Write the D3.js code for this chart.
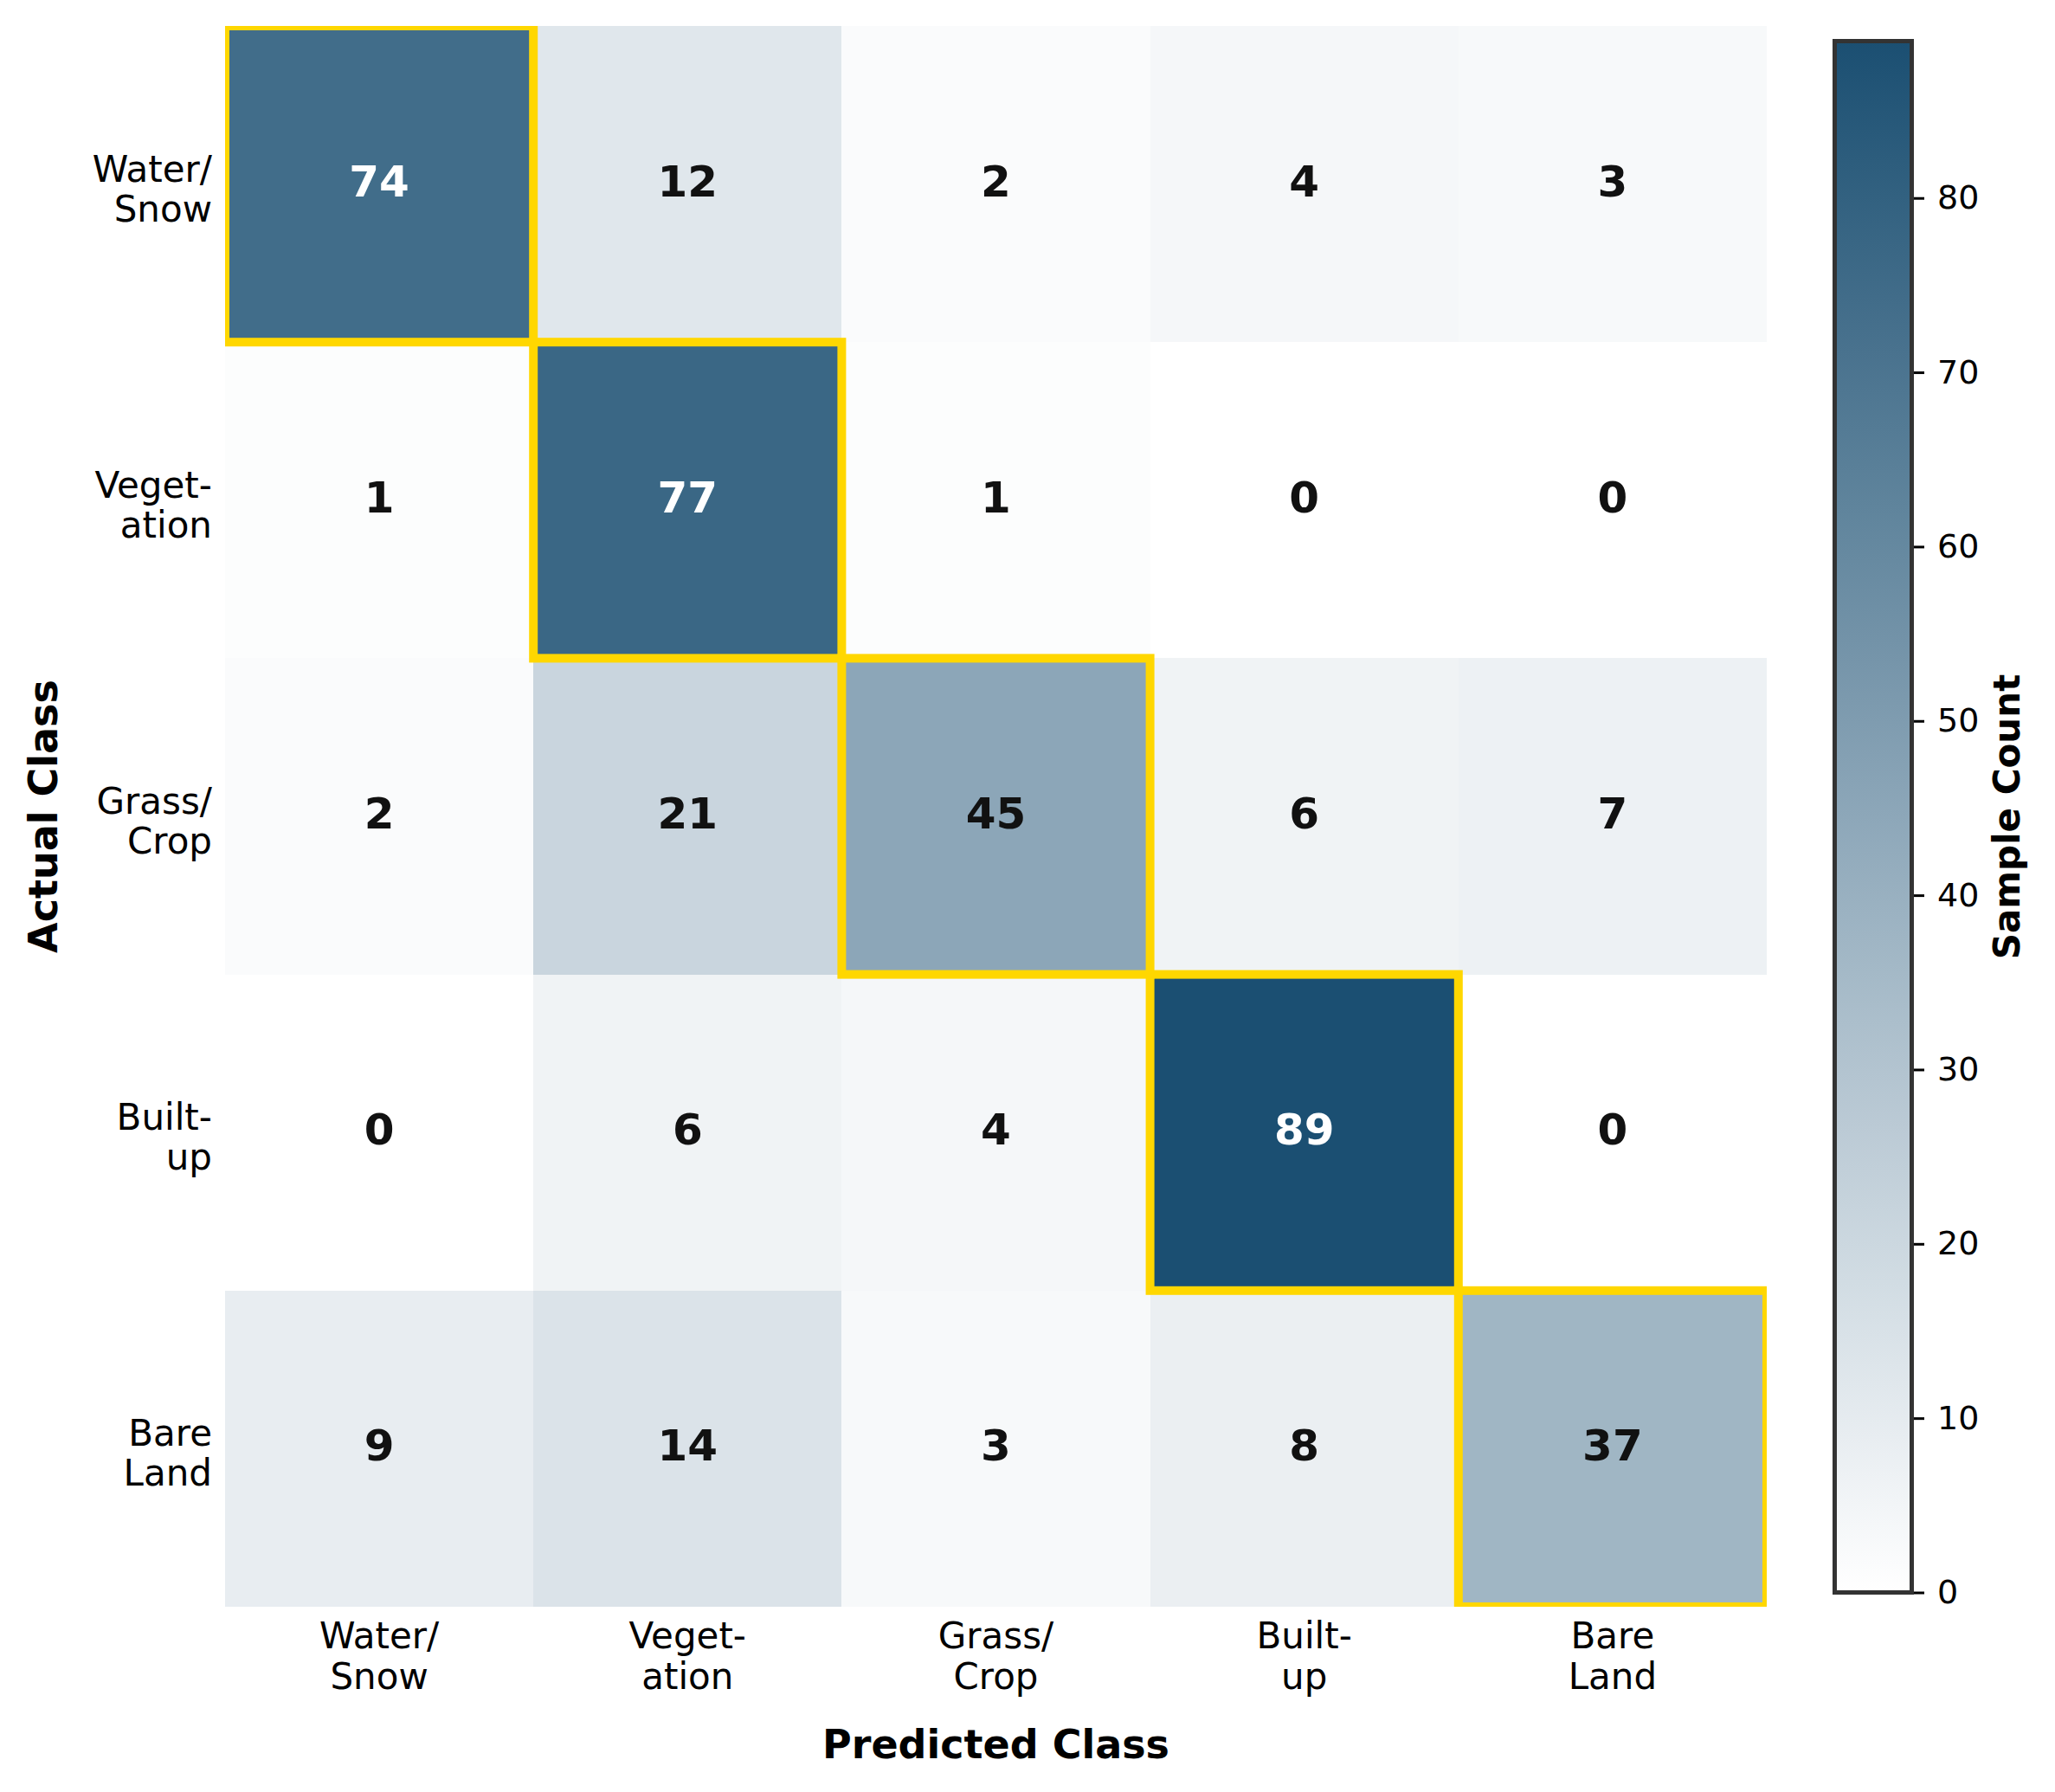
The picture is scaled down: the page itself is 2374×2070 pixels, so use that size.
<!DOCTYPE html>
<html>
<head>
<meta charset="utf-8">
<script src="https://cdn.jsdelivr.net/npm/d3@7"></script>
<style>
  html, body { margin: 0; padding: 0; background: #ffffff; }
  svg { display: block; }
  text { font-family: "DejaVu Sans", sans-serif; }
</style>
</head>
<body>
<svg id="chart" width="2374" height="2070"></svg>
<script>
// ---- data ----
const predictedClasses = ["Water/\nSnow", "Veget-\nation", "Grass/\nCrop", "Built-\nup", "Bare\nLand"];
const actualClasses    = ["Water/\nSnow", "Veget-\nation", "Grass/\nCrop", "Built-\nup", "Bare\nLand"];
const rowWaterSnow  = [74, 12, 2, 4, 3];
const rowVegetation = [1, 77, 1, 0, 0];
const rowGrassCrop  = [2, 21, 45, 6, 7];
const rowBuiltUp    = [0, 6, 4, 89, 0];
const rowBareLand   = [9, 14, 3, 8, 37];
const matrixRows = [rowWaterSnow, rowVegetation, rowGrassCrop, rowBuiltUp, rowBareLand];
const colorbarTicks = [0, 10, 20, 30, 40, 50, 60, 70, 80];
const colorMax = 89;

// ---- layout ----
const svg = d3.select("#chart");
const ax = { left: 260, top: 30, right: 2041, bottom: 1856 };
const cb = { left: 2119.5, right: 2208.5, top: 47.5, bottom: 1839.5 };

const cells = [];
matrixRows.forEach((row, r) => row.forEach((v, c) => cells.push({ r, c, v })));

const x = d3.scaleBand().domain(d3.range(predictedClasses.length)).range([ax.left, ax.right]);
const y = d3.scaleBand().domain(d3.range(actualClasses.length)).range([ax.top, ax.bottom]);
const color = d3.scaleLinear().domain([0, colorMax]).range(["#ffffff", "#1b4f72"]).interpolate(d3.interpolateRgb);

// clip for the highlight boxes
const defs = svg.append("defs");
defs.append("clipPath").attr("id", "axclip")
  .append("rect").attr("x", ax.left).attr("y", ax.top)
  .attr("width", ax.right - ax.left).attr("height", ax.bottom - ax.top);

// cells
svg.append("g").selectAll("rect").data(cells).join("rect")
  .attr("x", d => x(d.c)).attr("y", d => y(d.r))
  .attr("width", x.bandwidth()).attr("height", y.bandwidth())
  .attr("fill", d => color(d.v))
  .attr("shape-rendering", "crispEdges");

// diagonal highlights
svg.append("g").attr("clip-path", "url(#axclip)")
  .selectAll("rect").data(cells.filter(d => d.r === d.c)).join("rect")
  .attr("x", d => x(d.c)).attr("y", d => y(d.r))
  .attr("width", x.bandwidth()).attr("height", y.bandwidth())
  .attr("fill", "none").attr("stroke", "#FFD700").attr("stroke-width", 10);

// values
svg.append("g").selectAll("text").data(cells).join("text")
  .attr("x", d => x(d.c) + x.bandwidth() / 2)
  .attr("y", d => y(d.r) + y.bandwidth() / 2 + 14)
  .attr("text-anchor", "middle")
  .attr("font-size", 50).attr("font-weight", "bold")
  .attr("fill", d => d.v > 60 ? "#ffffff" : "#111111")
  .text(d => d.v);

// x tick labels
const xt = svg.append("g").selectAll("text").data(predictedClasses).join("text")
  .attr("text-anchor", "middle").attr("font-size", 42).attr("fill", "#000");
xt.each(function(lbl, i) {
  const t = d3.select(this);
  lbl.split("\n").forEach((line, k) => {
    t.append("tspan").attr("x", x(i) + x.bandwidth() / 2).attr("y", 1904 + k * 47).text(line);
  });
});

// y tick labels
const yt = svg.append("g").selectAll("text").data(actualClasses).join("text")
  .attr("text-anchor", "end").attr("font-size", 42).attr("fill", "#000");
yt.each(function(lbl, i) {
  const t = d3.select(this);
  const cy = y(i) + y.bandwidth() / 2;
  lbl.split("\n").forEach((line, k) => {
    t.append("tspan").attr("x", 245).attr("y", cy - 3 + k * 46).text(line);
  });
});

// axis titles
svg.append("text").attr("x", (ax.left + ax.right) / 2).attr("y", 2031)
  .attr("text-anchor", "middle").attr("font-size", 46).attr("font-weight", "bold")
  .text("Predicted Class");
svg.append("text").attr("transform", `translate(66,${(ax.top + ax.bottom) / 2}) rotate(-90)`)
  .attr("text-anchor", "middle").attr("font-size", 46).attr("font-weight", "bold")
  .text("Actual Class");

// colorbar
const cbScale = d3.scaleLinear().domain([0, colorMax]).range([cb.bottom, cb.top]);
const grad = defs.append("linearGradient").attr("id", "cbgrad")
  .attr("x1", 0).attr("y1", 1).attr("x2", 0).attr("y2", 0);
d3.range(0, 11).forEach(k => {
  grad.append("stop").attr("offset", k / 10).attr("stop-color", color(colorMax * k / 10));
});
svg.append("rect").attr("x", cb.left).attr("y", cb.top)
  .attr("width", cb.right - cb.left).attr("height", cb.bottom - cb.top)
  .attr("fill", "url(#cbgrad)");
const cbAxis = svg.append("g").attr("transform", `translate(${cb.right + 2.5},0)`)
  .call(d3.axisRight(cbScale).tickValues(colorbarTicks).tickSize(12).tickPadding(15).tickFormat(d3.format("d")));
cbAxis.select(".domain").remove();
cbAxis.selectAll(".tick line").attr("stroke", "#000").attr("stroke-width", 3);
cbAxis.selectAll(".tick text").attr("font-size", 38).attr("fill", "#000")
  .attr("font-family", "DejaVu Sans, sans-serif");
svg.append("rect").attr("x", cb.left).attr("y", cb.top)
  .attr("width", cb.right - cb.left).attr("height", cb.bottom - cb.top)
  .attr("fill", "none").attr("stroke", "#333333").attr("stroke-width", 5);
svg.append("text").attr("transform", `translate(2333,${(cb.top + cb.bottom) / 2}) rotate(-90)`)
  .attr("text-anchor", "middle").attr("font-size", 42).attr("font-weight", "bold")
  .text("Sample Count");
</script>
</body>
</html>
